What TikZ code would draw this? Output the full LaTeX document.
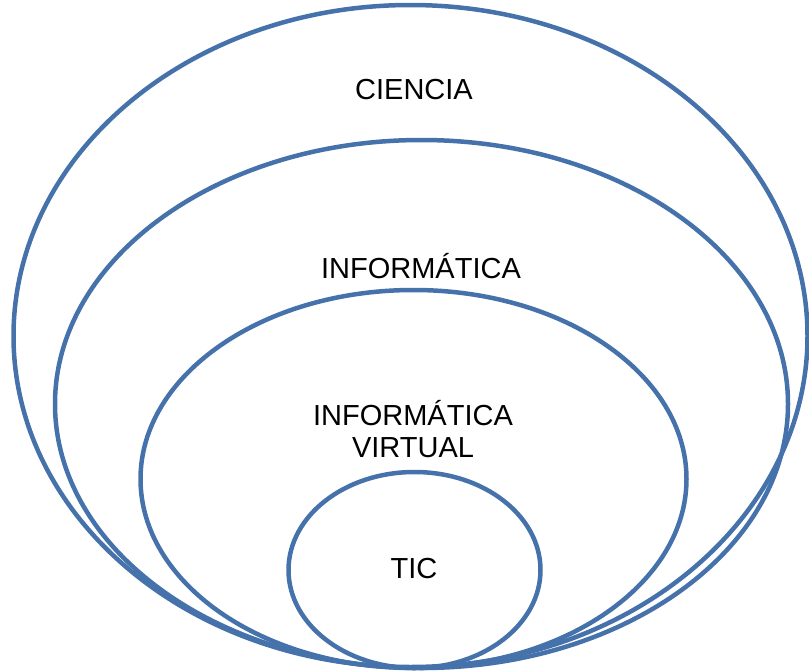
\documentclass[tikz,border=0pt]{standalone}
\usepackage{fontspec}
\setmainfont{Liberation Sans}
\definecolor{ringblue}{RGB}{70,114,172}
\tikzset{
	ring/.style={draw=ringblue, line width=4.5pt},
	lbl/.style={font=\fontsize{29}{32}\selectfont, align=center, inner sep=0pt}
}
\begin{document}
\begin{tikzpicture}[x=1pt, y=-1pt]
		\useasboundingbox (0,0) rectangle (809,672);
		
		\draw[ring] (410.5,336) ellipse (397pt and 331pt);
		\draw[ring] (421.5,404) ellipse (366.5pt and 264pt);
		\draw[ring] (413.5,479) ellipse (273pt and 189pt);
		\draw[ring] (414.5,570) ellipse (126pt and 98pt);
		
		\node[lbl] (ciencia) at (414,90) {CIENCIA};
		\node[lbl] (info) at (421,266) {INFORMÁTICA};
		\node[lbl] (virtual) at (413,429) {INFORMÁTICA\\VIRTUAL};
		\node[lbl] (tic) at (414,569) {TIC};
		\end{tikzpicture}
\end{document}
